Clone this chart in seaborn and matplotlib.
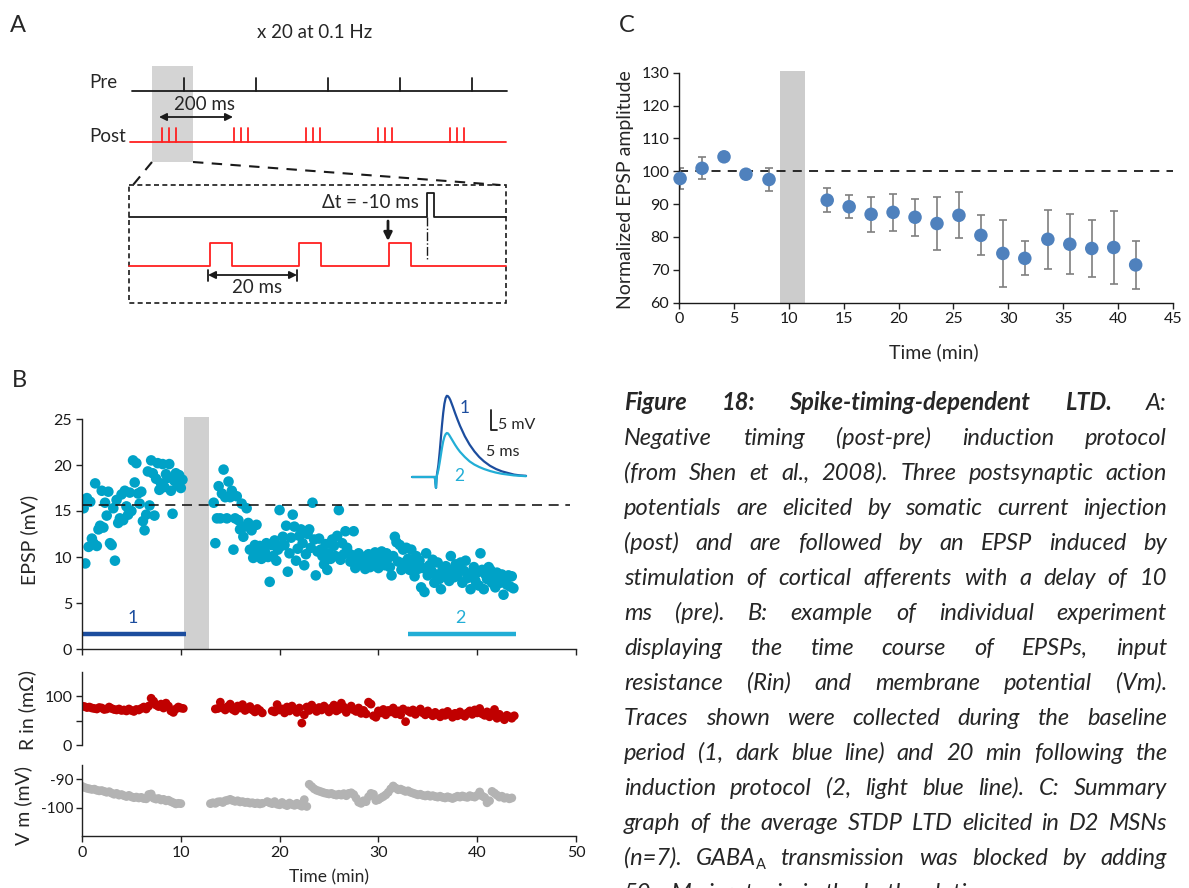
import numpy as np
import pandas as pd
import matplotlib
matplotlib.use("Agg")
import matplotlib.pyplot as plt
import seaborn as sns
from matplotlib.patches import Rectangle

W, H = 1189, 888
DPI = 100

# ---------------- data ----------------
SWEEP_MIN = 1 / 6        # EPSP sampled at 0.1 Hz
RIN_VM_STEP = 0.25       # Rin / Vm plotted every 15 s

epsp_pre_start = 0.0
epsp_pre = [16.2, 15.3, 9.3, 16.4, 11.1, 16.0,
            12.0, 11.5, 18.0, 11.2, 13.0, 13.4,
            17.2, 13.2, 15.9, 14.5, 17.1, 11.5,
            11.3, 15.3, 9.6, 16.2, 13.7, 14.2,
            16.8, 14.0, 17.2, 15.5, 14.6, 17.0,
            15.0, 20.5, 18.1, 20.2, 16.9, 15.8,
            17.1, 13.9, 12.9, 14.6, 19.3, 15.6,
            20.5, 19.1, 14.5, 18.5, 20.2, 17.3,
            18.0, 20.1, 17.6, 19.0, 18.6, 20.1,
            17.2, 14.7, 18.3, 19.1, 17.8, 18.9,
            17.5, 18.4]
epsp_post_start = 13.33
epsp_post = [15.9, 11.5, 14.2, 17.7, 14.2, 16.9,
             19.5, 16.5, 14.2, 18.2, 16.5, 17.2,
             10.8, 14.2, 16.6, 14.0, 13.0, 15.8,
             12.2, 13.3, 15.3, 13.7, 10.8, 12.9,
             9.9, 11.3, 13.5, 10.4, 11.2, 9.8,
             11.0, 10.6, 11.5, 10.0, 7.3, 11.3,
             10.1, 11.8, 9.6, 10.8, 15.1, 11.2,
             12.2, 11.3, 13.4, 8.4, 10.4, 12.1,
             14.6, 13.3, 9.6, 10.9, 12.3, 13.0,
             11.5, 9.1, 10.3, 12.5, 13.0, 11.0,
             15.9, 11.9, 8.0, 10.6, 12.0, 10.8,
             10.1, 9.2, 11.4, 8.6, 10.4, 9.8,
             11.9, 11.2, 10.1, 12.3, 15.1, 9.7,
             11.5, 10.3, 12.8, 11.0, 10.4, 9.5,
             10.2, 12.8, 8.8, 9.9, 10.4, 9.2,
             9.7, 10.0, 8.7, 9.4, 10.3, 8.9,
             9.9, 9.3, 10.5, 9.8, 8.8, 10.2,
             10.6, 9.6, 9.1, 10.4, 9.9, 8.9,
             8.0, 10.1, 12.2, 11.6, 9.5, 11.3,
             8.6, 10.8, 9.4, 11.0, 9.8, 8.6,
             10.8, 9.4, 7.9, 10.1, 8.7, 9.6,
             6.7, 8.8, 6.2, 10.4, 8.0, 9.1,
             8.6, 9.7, 7.2, 8.1, 9.4, 7.6,
             6.5, 8.6, 7.9, 9.0, 8.2, 7.4,
             10.1, 8.6, 7.8, 9.2, 8.0, 8.8,
             9.4, 7.2, 8.5, 9.6, 7.7, 8.2,
             6.5, 8.0, 8.9, 7.4, 8.3, 6.9,
             10.4, 8.6, 6.5, 8.1, 7.6, 8.9,
             8.6, 7.2, 7.9, 6.7, 8.3, 7.6,
             7.2, 8.1, 5.9, 7.6, 7.0, 8.0,
             6.8, 7.9, 6.6]
epsp_baseline = 15.6

rin_starts = [0.0, 13.5, 19.25]
rin_pre = [80, 79, 77, 78, 76, 75, 74, 77, 76, 73,
           74, 78, 75, 73, 72, 74, 71, 72, 70, 74,
           71, 69, 73, 72, 75, 78, 74, 80, 96, 90,
           82, 79, 84, 76, 86, 80, 70, 67, 74, 78,
           76, 75]
rin_post_a = [74, 75, 88, 76, 72, 79, 84, 73, 70, 80,
              76, 83, 71, 74, 79, 72, 68, 75, 71, 66]
rin_post_b = [70, 68, 83, 72, 74, 66, 78, 70, 80, 73, 67, 76,
              45, 62, 78, 71, 82, 74, 69, 77, 72, 80, 75, 68,
              76, 82, 70, 73, 86, 78, 67, 74, 80, 72, 69, 76,
              65, 71, 64, 88, 84, 60, 57, 70, 66, 73, 62, 71,
              68, 76, 64, 70, 62, 74, 48, 70, 67, 72, 63, 69,
              74, 66, 62, 70, 64, 60, 67, 63, 58, 66, 61, 69,
              63, 57, 65, 60, 68, 62, 59, 66, 70, 63, 72, 66,
              75, 64, 61, 68, 58, 66, 73, 55, 63, 57, 52, 61,
              58, 55, 60]

vm_starts = [0.0, 13.0, 18.75, 23.0]
vm_pre = [-92.5, -92.9, -93.2, -93.4, -93.6, -93.5, -93.9, -94.1, -94.0, -94.3,
          -94.6, -94.4, -94.9, -95.3, -95.0, -95.6, -95.4, -95.8, -96.1, -95.7,
          -96.2, -96.5, -96.3, -96.6, -96.4, -96.8, -96.9, -95.4, -95.2, -96.7,
          -97.0, -96.8, -97.3, -97.1, -97.6, -97.4, -97.9, -98.3, -98.7, -98.5,
          -98.6]
vm_post_a = [-98.6, -98.3, -98.5, -98.0, -97.9, -98.2, -97.6, -97.4, -97.1, -97.5,
             -97.8, -97.6, -98.0, -97.9, -98.2, -98.1, -98.4, -98.3, -98.6, -98.4,
             -98.7, -98.5]
vm_post_b = [-97.9, -98.3, -98.6, -97.9, -98.8, -99.0, -98.2, -98.9, -99.3, -98.4,
             -98.9, -99.2, -98.5, -99.1, -99.5, -97.2, -99.6]
vm_post_c = [-91.8, -92.6, -93.4, -93.9, -94.2, -94.5, -94.8, -95.0,
             -95.2, -95.0, -95.4, -95.6, -95.3, -95.6, -95.1, -95.8,
             -95.0, -94.8, -95.4, -96.7, -98.1, -98.5, -97.6, -97.9,
             -96.2, -95.0, -95.3, -97.5, -97.2, -96.6, -96.1, -95.5,
             -94.6, -93.4, -92.4, -93.1, -93.7, -93.5, -93.9, -94.3,
             -94.1, -94.6, -94.9, -95.2, -95.5, -95.3, -95.7, -95.9,
             -95.6, -96.0, -95.8, -96.1, -96.3, -96.0, -96.4, -96.6,
             -96.2, -96.5, -96.8, -96.4, -96.0, -96.3, -95.9, -96.2,
             -96.4, -95.8, -96.1, -96.3, -95.7, -94.5, -95.9, -96.4,
             -98.3, -97.6, -94.3, -94.9, -95.6, -96.3, -96.0, -96.7,
             -96.5, -96.9, -96.6]

# example EPSP traces (inset), ms / mV
trace_ms = [-20, -15, -10, -5, -1, 0, 0.5, 1, 2, 3, 4, 5, 6, 7, 8, 9, 10, 11, 12,
            14, 16, 18, 20, 24, 28, 32, 36, 40, 45, 50, 55, 60, 65, 70, 75]
trace_1 = [0, 0, 0, 0, 0, -2.7, 0, 1.0, 3.0, 6.0, 9.5, 13.0, 16.0, 18.3, 19.7, 20.3,
           20.2, 19.8, 19.2, 17.6, 15.9, 14.3, 12.8, 10.2, 8.1, 6.4, 5.0, 3.9, 2.8,
           2.0, 1.4, 1.0, 0.6, 0.4, 0.3]
trace_2 = [0, 0, 0, 0, 0, -2.7, 0, 0.6, 1.8, 3.5, 5.4, 7.3, 8.9, 10.0, 10.7, 11.0,
           10.9, 10.5, 10.0, 9.0, 8.0, 7.1, 6.3, 5.0, 3.9, 3.1, 2.5, 2.0, 1.5, 1.1,
           0.8, 0.6, 0.4, 0.3, 0.2]

# panel C: average normalized EPSP (n=7)
sum_time = [0.1, 2.1, 4.1, 6.1, 8.2, 13.5, 15.5, 17.5, 19.5, 21.5,
            23.5, 25.5, 27.5, 29.5, 31.5, 33.6, 35.6, 37.6, 39.6, 41.6]
sum_mean = [97.8, 100.9, 104.4, 99.1, 97.5, 91.2, 89.2, 86.9, 87.5, 86.0,
            84.1, 86.6, 80.5, 75.0, 73.5, 79.3, 77.8, 76.5, 76.8, 71.5]
sum_sem = [3.2, 3.3, 1.0, 1.0, 3.6, 3.6, 3.5, 5.3, 5.7, 5.7,
           8.1, 7.0, 6.1, 10.2, 5.2, 8.9, 9.2, 8.8, 11.0, 7.4]

induction_b = (10.3, 12.9)
induction_c = (9.2, 11.5)
period_1 = (0.0, 10.55)
period_2 = (33.0, 43.9)

caption = [
    [("Figure", "bold"), ("18:", "bold"), ("Spike-timing-dependent", "bold"),
     ("LTD.", "bold"), ("A:", "normal")],
    "Negative timing (post-pre) induction protocol",
    "(from Shen et al., 2008). Three postsynaptic action",
    "potentials are elicited by somatic current injection",
    "(post) and are followed by an EPSP induced by",
    "stimulation of cortical afferents with a delay of 10",
    "ms (pre). B: example of individual experiment",
    "displaying the time course of EPSPs, input",
    "resistance (Rin) and membrane potential (Vm).",
    "Traces shown were collected during the baseline",
    "period (1, dark blue line) and 20 min following the",
    "induction protocol (2, light blue line). C: Summary",
    "graph of the average STDP LTD elicited in D2 MSNs",
    "(n=7). GABA_A transmission was blocked by adding",
    "50 \u00b5M picrotoxin in the bath solution.",
]

# ---------------- style ----------------
CYAN = "#00a2c7"
DARK_BLUE = "#1c4d9e"
LIGHT_BLUE = "#22aed6"
RED = "#c00000"
GREY_PTS = "#b3b3b3"
BAR_GREY = "#d0d0d0"
C_BLUE = "#4f81bd"
A_RED = "#ff2020"
SPINE = "#222222"
TICK_SIZE = 11.5
LABEL_SIZE = 14

sns.set_theme(style="ticks")
FONT = ["Lato", "DejaVu Sans"]
plt.rcParams["font.family"] = FONT
plt.rcParams["axes.unicode_minus"] = False


def sweep_times(start, step, n):
    return start + step * np.arange(n)


def segments_df(starts, segs, step, name):
    frames = []
    for k, (s, vals) in enumerate(zip(starts, segs)):
        frames.append(pd.DataFrame({"time": sweep_times(s, step, len(vals)),
                                    name: vals, "seg": k}))
    return pd.concat(frames, ignore_index=True)


df_epsp = segments_df([epsp_pre_start, epsp_post_start], [epsp_pre, epsp_post],
                      SWEEP_MIN, "epsp")
df_rin = segments_df(rin_starts, [rin_pre, rin_post_a, rin_post_b], RIN_VM_STEP, "rin")
df_vm = segments_df(vm_starts, [vm_pre, vm_post_a, vm_post_b, vm_post_c],
                    RIN_VM_STEP, "vm")

fig = plt.figure(figsize=(W / DPI, H / DPI), dpi=DPI)
fig.patch.set_facecolor("white")


def add_px_axes(left, top, right, bottom):
    return fig.add_axes([left / W, 1 - bottom / H, (right - left) / W, (bottom - top) / H])


def ftext(x, y, s, **kw):
    return fig.text(x / W, 1 - y / H, s, **kw)


def style_axes(ax, bottom=True):
    ax.set_facecolor("none")
    for side in ["top", "right"]:
        ax.spines[side].set_visible(False)
    ax.spines["left"].set_color(SPINE)
    ax.spines["left"].set_linewidth(1.0)
    ax.spines["bottom"].set_color(SPINE)
    ax.spines["bottom"].set_linewidth(1.0)
    ax.spines["bottom"].set_visible(bottom)
    ax.tick_params(direction="out", length=4, width=1, labelsize=TICK_SIZE,
                   color=SPINE, labelcolor="#1a1a1a", pad=3)
    ax.set_xlabel("")
    ax.set_ylabel("")


# ---------------- panel A (schematic) ----------------
axA = fig.add_axes([0, 0, 1, 1])
axA.set_xlim(0, W)
axA.set_ylim(H, 0)
axA.axis("off")

PRE_Y, POST_Y = 91, 142
first_post, burst_px, spike_px, pre_offset = 162, 72, 7, 22
axA.add_patch(Rectangle((152, 66), 41, 96, color="#d4d4d4", lw=0, zorder=0))
axA.plot([132, 507], [PRE_Y, PRE_Y], color="k", lw=1.3)
axA.plot([130, 506], [POST_Y, POST_Y], color=A_RED, lw=1.3)
for k in range(5):
    x = first_post + k * burst_px
    axA.plot([x + pre_offset] * 2, [PRE_Y, PRE_Y - 13], color="k", lw=1.3)
    for j in range(3):
        axA.plot([x + j * spike_px] * 2, [POST_Y, POST_Y - 14], color=A_RED, lw=1.3)
axA.text(89, 82, "Pre", fontsize=13.5, ha="left", va="center")
axA.text(89, 137, "Post", fontsize=13.5, ha="left", va="center")
axA.text(315, 33, "x 20 at 0.1 Hz", fontsize=13.5, ha="center", va="center")
axA.text(205, 104, "200 ms", fontsize=13.5, ha="center", va="center")
axA.annotate("", xy=(233, 117), xytext=(159, 117),
             arrowprops=dict(arrowstyle="<|-|>", color="k", lw=1.3, mutation_scale=11,
                             shrinkA=0, shrinkB=0))
# zoom-in lines and box
axA.plot([152, 133], [162, 185], color="k", lw=1.5, ls=(0, (5, 4)))
axA.plot([193, 500], [162, 185], color="k", lw=1.5, ls=(0, (5, 4)))
axA.add_patch(Rectangle((129, 185), 377, 118, fill=False, ec="k", lw=1.2,
                        ls=(0, (3, 2))))
axA.plot([129, 427, 427, 434, 434, 506], [217, 217, 193, 193, 217, 217], color="k", lw=1.3)
pulse_x = []
for x0 in [210, 299, 389]:
    pulse_x += [x0, x0, x0 + 22, x0 + 22]
post_xs = [129] + pulse_x + [506]
post_ys = [266] + [266, 243, 243, 266] * 3 + [266]
axA.plot(post_xs, post_ys, color=A_RED, lw=1.3)
axA.plot([427, 427], [217, 260], color="k", lw=1.0, ls="-.")
axA.text(419, 202, "\u0394t = -10 ms", fontsize=13.5, ha="right", va="center")
axA.annotate("", xy=(388, 241), xytext=(388, 221),
             arrowprops=dict(arrowstyle="-|>", color="k", lw=2, mutation_scale=12,
                             shrinkA=0, shrinkB=0))
axA.annotate("", xy=(297, 275), xytext=(208, 275),
             arrowprops=dict(arrowstyle="<|-|>", color="k", lw=1.3, mutation_scale=11,
                             shrinkA=0, shrinkB=0))
axA.plot([208, 208], [270, 281], color="k", lw=1.3)
axA.plot([297, 297], [270, 281], color="k", lw=1.3)
axA.text(257, 287, "20 ms", fontsize=13.5, ha="center", va="center")

# panel letters
ftext(10, 32, "A", fontsize=17, va="baseline")
ftext(12, 387, "B", fontsize=17, va="baseline")
ftext(619, 32, "C", fontsize=17, va="baseline")

# ---------------- panel B ----------------
X0, X1 = 82, 576
axE = add_px_axes(X0, 419, X1, 649)
sns.scatterplot(data=df_epsp, x="time", y="epsp", color=CYAN, s=58, edgecolor="none",
                ax=axE, zorder=2)
axE.add_patch(Rectangle((induction_b[0], 0), induction_b[1] - induction_b[0], 25.2,
                        color=BAR_GREY, lw=0, zorder=1, clip_on=False))
axE.plot([0, 49.4], [epsp_baseline] * 2, color="k", lw=1.2, ls=(0, (6, 4)), zorder=3)
axE.plot(period_1, [1.6, 1.6], color=DARK_BLUE, lw=3.2, solid_capstyle="butt")
axE.plot(period_2, [1.6, 1.6], color=LIGHT_BLUE, lw=3.2, solid_capstyle="butt")
axE.text(np.mean(period_1) - 0.1, 3.4, "1", color=DARK_BLUE, fontsize=13, ha="center", va="center")
axE.text(np.mean(period_2) - 0.2, 3.4, "2", color=LIGHT_BLUE, fontsize=13, ha="center", va="center")
axE.set_xlim(0, 50)
axE.set_ylim(0, 25)
axE.set_yticks(range(0, 26, 5))
axE.set_xticks(range(0, 51, 10))
style_axes(axE)
axE.set_xticklabels([])
ftext(29, 540, "EPSP (mV)", fontsize=LABEL_SIZE, rotation=90, ha="center", va="center")

# inset traces
axI = add_px_axes(409.6, 381, 544, 493)
sns.lineplot(x=trace_ms, y=trace_1, color=DARK_BLUE, lw=1.6, ax=axI)
sns.lineplot(x=trace_ms, y=trace_2, color=LIGHT_BLUE, lw=1.6, ax=axI)
axI.set_xlim(-22, 90)
axI.set_ylim(-4, 24)
axI.axis("off")
axI.plot([45.8, 45.8, 50.8], [16.75, 11.75, 11.75], color="k", lw=1.3)
axI.text(51.8, 12.9, "5 mV", fontsize=11.5, ha="left", va="center")
axI.text(56, 6.3, "5 ms", fontsize=11.5, ha="center", va="center")
axI.text(24, 17.2, "1", color=DARK_BLUE, fontsize=12.5, ha="center", va="center")
axI.text(19, 0.2, "2", color=LIGHT_BLUE, fontsize=12.5, ha="center", va="center")

# input resistance
axR = add_px_axes(X0, 672, X1, 745)
sns.scatterplot(data=df_rin, x="time", y="rin", color=RED, s=40, edgecolor="none", ax=axR)
axR.set_xlim(0, 50)
axR.set_ylim(0, 150)
axR.set_yticks([0, 50, 100])
axR.set_xticks([])
style_axes(axR, bottom=False)
axR.set_yticklabels(["0", "", "100"])
ftext(27, 710, "R in (m\u03a9)", fontsize=LABEL_SIZE, rotation=90, ha="center", va="center")

# membrane potential
axV = add_px_axes(X0, 765, X1, 836)
sns.scatterplot(data=df_vm, x="time", y="vm", color=GREY_PTS, s=40, edgecolor="none", ax=axV)
axV.set_xlim(0, 50)
axV.set_ylim(-110, -85)
axV.set_yticks([-100, -90])
axV.set_xticks(range(0, 51, 10))
style_axes(axV)
axV.tick_params(axis="y", labelsize=11, pad=2)
ftext(23, 805, "V m (mV)", fontsize=LABEL_SIZE, rotation=90, ha="center", va="center")
ftext((X0 + X1) / 2, 877, "Time (min)", fontsize=12.5, ha="center", va="center")

# ---------------- panel C ----------------
axC = add_px_axes(679, 72.7, 1173, 302.7)
axC.add_patch(Rectangle((induction_c[0], 60), induction_c[1] - induction_c[0], 70.6,
                        color="#cccccc", lw=0, zorder=0.5, clip_on=False))
axC.plot([0, 45], [100, 100], color="k", lw=1.3, ls=(0, (5, 4)), zorder=1)
axC.errorbar(sum_time, sum_mean, yerr=sum_sem, fmt="none", ecolor="#7f7f7f",
             elinewidth=1.2, capsize=3, capthick=1.2, zorder=2)
sns.scatterplot(x=sum_time, y=sum_mean, color=C_BLUE, s=95, edgecolor="none",
                ax=axC, zorder=3, clip_on=False)
axC.set_xlim(0, 45)
axC.set_ylim(60, 130)
axC.set_xticks(range(0, 46, 5))
axC.set_yticks(range(60, 131, 10))
style_axes(axC)
axC.spines["left"].set_color("k")
axC.spines["bottom"].set_color("k")
ftext(626, 190, "Normalized EPSP amplitude", fontsize=LABEL_SIZE, rotation=90,
      ha="center", va="center")
ftext(934, 352, "Time (min)", fontsize=LABEL_SIZE, ha="center", va="center")

# ---------------- caption (justified) ----------------
CAP_X0, CAP_X1 = 624, 1167
CAP_Y0, CAP_DY = 410, 35
renderer = fig.canvas.get_renderer()


def parse_line(line):
    if isinstance(line, list):
        return [(w, wt, None) for w, wt in line]
    words = []
    for w in line.split(" "):
        if "_" in w:
            main, sub = w.split("_")
            words.append((main, "normal", sub))
        else:
            words.append((w, "normal", None))
    return words


cap_words = [parse_line(l) for l in caption]


def make_word(word, size):
    text, weight, sub = word
    arts = [fig.text(0, 0, text, fontsize=size, fontstyle="italic", fontweight=weight,
                     va="baseline")]
    widths = [arts[0].get_window_extent(renderer).width]
    if sub:
        s = fig.text(0, 0, sub, fontsize=size * 0.62, fontstyle="normal", va="baseline")
        arts.append(s)
        widths.append(s.get_window_extent(renderer).width)
    return arts, widths


def space_width(size):
    a = fig.text(0, 0, "a a", fontsize=size, fontstyle="italic")
    b = fig.text(0, 0, "aa", fontsize=size, fontstyle="italic")
    w = a.get_window_extent(renderer).width - b.get_window_extent(renderer).width
    a.remove()
    b.remove()
    return w


# fit the font size to the widest line
trial = 10
sp = space_width(trial)
widest = 0
for words in cap_words[:-1]:
    tot = 0
    for wd in words:
        arts, ws = make_word(wd, trial)
        tot += sum(ws)
        for a in arts:
            a.remove()
    widest = max(widest, tot + sp * (len(words) - 1))
cap_size = min(17.0, trial * 0.975 * (CAP_X1 - CAP_X0) / widest)
sp = space_width(cap_size)

for i, words in enumerate(cap_words):
    y = CAP_Y0 + CAP_DY * i
    built = [make_word(wd, cap_size) for wd in words]
    total = sum(sum(ws) for _, ws in built)
    last = i == len(cap_words) - 1
    gap = sp if (last or len(words) < 2) else (CAP_X1 - CAP_X0 - total) / (len(words) - 1)
    x = CAP_X0
    for arts, ws in built:
        arts[0].set_position((x / W, 1 - y / H))
        if len(arts) > 1:
            arts[1].set_position(((x + ws[0]) / W, 1 - (y + 4) / H))
        x += sum(ws) + gap

fig.savefig("out.png", dpi=DPI)
